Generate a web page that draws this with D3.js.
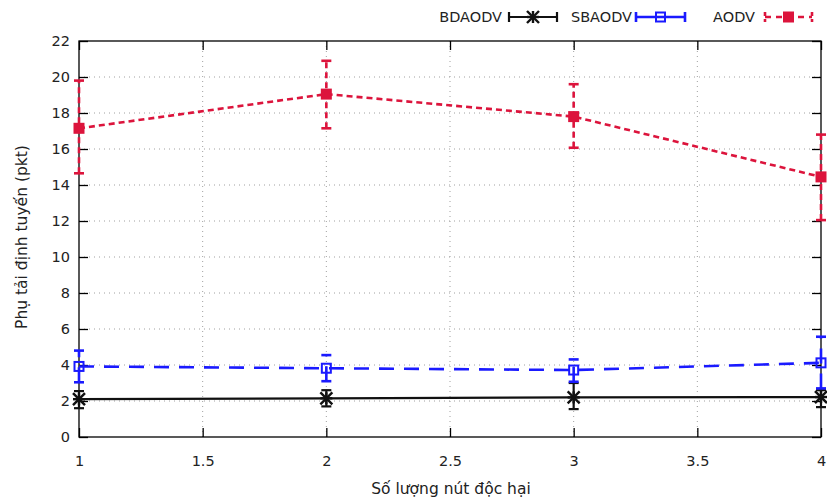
<!DOCTYPE html>
<html><head><meta charset="utf-8">
<script src="https://cdn.jsdelivr.net/npm/d3@7"></script>
<style>body{margin:0;background:#fff;} svg{display:block;} text{font-family:"DejaVu Sans",sans-serif;fill:#222;}</style>
</head><body>
<script>
const xValues = [1, 2, 3, 4];
const bdaodv = [2.1, 2.15, 2.2, 2.22];
const bdaodvLow = [1.6, 1.7, 1.55, 1.66];
const bdaodvHigh = [2.55, 2.6, 3.0, 2.6];
const sbaodv = [3.92, 3.82, 3.72, 4.12];
const sbaodvLow = [3.04, 3.1, 3.07, 2.7];
const sbaodvHigh = [4.8, 4.55, 4.31, 5.57];
const aodv = [17.15, 19.05, 17.8, 14.45];
const aodvLow = [14.65, 17.15, 16.07, 12.05];
const aodvHigh = [19.8, 20.9, 19.6, 16.8];
const xTicks = [1, 1.5, 2, 2.5, 3, 3.5, 4];
const yTicks = [0, 2, 4, 6, 8, 10, 12, 14, 16, 18, 20, 22];
const seriesNames = ["BDAODV", "SBAODV", "AODV"];
const xTitle = "Số lượng nút độc hại";
const yTitle = "Phụ tải định tuyến (pkt)";

const W = 827, H = 499;
const m = {left: 79, right: 6, top: 41, bottom: 62};
const svg = d3.select("body").append("svg").attr("width", W).attr("height", H);
const x = d3.scaleLinear().domain([1, 4]).range([m.left, W - m.right]);
const y = d3.scaleLinear().domain([0, 22]).range([H - m.bottom, m.top]);

// grid
const grid = svg.append("g");
grid.selectAll(".gx").data(xTicks.slice(1, -1)).join("line")
  .attr("x1", d => x(d)).attr("x2", d => x(d)).attr("y1", y(0)).attr("y2", y(22))
  .attr("stroke", "#a0a0a0").attr("stroke-width", 1).attr("stroke-dasharray", "1,4");
grid.selectAll(".gy").data(yTicks.slice(1, -1)).join("line")
  .attr("y1", d => y(d)).attr("y2", d => y(d)).attr("x1", x(1)).attr("x2", x(4))
  .attr("stroke", "#a0a0a0").attr("stroke-width", 1).attr("stroke-dasharray", "1,4");

// axes
const yAxis = d3.axisLeft(y).tickValues(yTicks).tickSizeInner(-9).tickSizeOuter(0).tickPadding(9).tickFormat(d3.format("d"));
const xAxis = d3.axisBottom(x).tickValues(xTicks).tickSizeInner(-9).tickSizeOuter(0).tickPadding(19).tickFormat(d => String(d));
const yR = d3.axisRight(y).tickValues(yTicks).tickSizeInner(-9).tickSizeOuter(0).tickFormat("");
const xT = d3.axisTop(x).tickValues(xTicks).tickSizeInner(-9).tickSizeOuter(0).tickFormat("");
function styleAxis(g){ g.select(".domain").remove(); g.selectAll("line").attr("stroke","#000").attr("stroke-width",1.3); g.selectAll("text").attr("font-size",14.5).attr("font-family","DejaVu Sans").attr("fill","#222"); }
svg.append("g").attr("transform", `translate(${m.left},0)`).call(yAxis).call(styleAxis);
svg.append("g").attr("transform", `translate(0,${H - m.bottom})`).call(xAxis).call(styleAxis);
svg.append("g").attr("transform", `translate(${W - m.right},0)`).call(yR).call(styleAxis);
svg.append("g").attr("transform", `translate(0,${m.top})`).call(xT).call(styleAxis);
svg.append("rect").attr("x", x(1)).attr("y", y(22)).attr("width", x(4) - x(1)).attr("height", y(0) - y(22))
  .attr("fill", "none").attr("stroke", "#000").attr("stroke-width", 1.3);

// titles
svg.append("text").attr("x", 451).attr("y", 494).attr("text-anchor", "middle").attr("font-size", 15.5).text(xTitle);
svg.append("text").attr("transform", `translate(27,${(y(0)+y(22))/2 - 2}) rotate(-90)`).attr("text-anchor", "middle").attr("font-size", 15.5).text(yTitle);

const series = [
  {name: seriesNames[0], v: bdaodv, lo: bdaodvLow, hi: bdaodvHigh, color: "#111", dash: null, legDash: null, w: 2.2, marker: "star"},
  {name: seriesNames[1], v: sbaodv, lo: sbaodvLow, hi: sbaodvHigh, color: "#1a1aff", dash: "15,10", legDash: null, w: 2.6, marker: "open"},
  {name: seriesNames[2], v: aodv, lo: aodvLow, hi: aodvHigh, color: "#dc143c", dash: "6,4", legDash: "6,5", w: 2.6, marker: "filled"}
];

function drawMarker(g, type, cx, cy, color){
  if (type === "filled") {
    g.append("rect").attr("x", cx - 5.5).attr("y", cy - 5.5).attr("width", 11).attr("height", 11).attr("fill", color);
  } else if (type === "open") {
    g.append("rect").attr("x", cx - 4.5).attr("y", cy - 4.5).attr("width", 9).attr("height", 9).attr("fill", "none").attr("stroke", color).attr("stroke-width", 2);
  } else {
    const s = 6;
    const p = [[-s,0,s,0],[0,-s,0,s],[-s,-s,s,s],[-s,s,s,-s]];
    p.forEach(q => g.append("line").attr("x1", cx+q[0]).attr("y1", cy+q[1]).attr("x2", cx+q[2]).attr("y2", cy+q[3]).attr("stroke", color).attr("stroke-width", 2.4));
  }
}

const line = d3.line().x((d,i) => x(xValues[i])).y(d => y(d));
series.forEach(s => {
  const g = svg.append("g");
  xValues.forEach((xv, i) => {
    const cx = x(xv);
    g.append("line").attr("x1", cx).attr("x2", cx).attr("y1", y(s.lo[i])).attr("y2", y(s.hi[i]))
      .attr("stroke", s.color).attr("stroke-width", s.w).attr("stroke-dasharray", s.dash);
    [s.lo[i], s.hi[i]].forEach(e => {
      g.append("line").attr("x1", cx - 5).attr("x2", cx + 5).attr("y1", y(e)).attr("y2", y(e))
        .attr("stroke", s.color).attr("stroke-width", s.w);
    });
  });
  g.append("path").datum(s.v).attr("d", line).attr("fill", "none").attr("stroke", s.color)
    .attr("stroke-width", s.w).attr("stroke-dasharray", s.dash);
  xValues.forEach((xv, i) => drawMarker(g, s.marker, x(xv), y(s.v[i]), s.color));
});

// legend
const legendPos = [{tx: 502, x0: 509, x1: 557}, {tx: 632, x0: 636, x1: 685}, {tx: 755, x0: 765, x1: 812}];
const ly = 17;
series.forEach((s, i) => {
  const L = legendPos[i];
  const g = svg.append("g");
  g.append("text").attr("x", L.tx).attr("y", ly + 5).attr("text-anchor", "end").attr("font-size", 14.5).text(s.name);
  g.append("line").attr("x1", L.x0).attr("x2", L.x1).attr("y1", ly).attr("y2", ly).attr("stroke", s.color).attr("stroke-width", s.w).attr("stroke-dasharray", s.legDash);
  [L.x0, L.x1].forEach(ex => g.append("line").attr("x1", ex).attr("x2", ex).attr("y1", ly - 5).attr("y2", ly + 5).attr("stroke", s.color).attr("stroke-width", s.w).attr("stroke-dasharray", s.legDash ? "4,3" : null));
  drawMarker(g, s.marker, (L.x0 + L.x1) / 2, ly, s.color);
});
</script>
</body></html>
